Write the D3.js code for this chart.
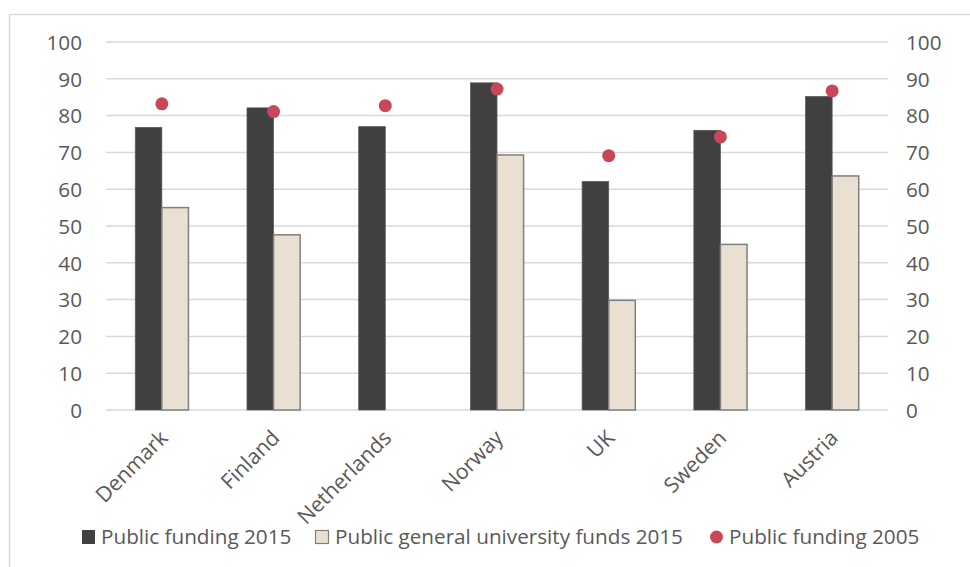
<!DOCTYPE html>
<html><head><meta charset="utf-8">
<script src="https://cdn.jsdelivr.net/npm/d3@7"></script>
<style>
html,body{margin:0;padding:0;background:#fff;}
svg{display:block;}
text{font-family:"Open Sans",sans-serif;fill:#595959;}
</style></head>
<body>
<svg id="chart" width="970" height="567"></svg>
<script>
const categories = ["Denmark","Finland","Netherlands","Norway","UK","Sweden","Austria"];
const publicFunding2015 = [76.8, 82.1, 77.0, 88.9, 62.1, 76.0, 85.2];
const generalUniversityFunds2015 = [55.0, 47.6, null, 69.3, 29.8, 45.0, 63.6];
const publicFunding2005 = [83.2, 81.1, 82.7, 87.2, 69.1, 74.2, 86.7];
const yTicks = [0,10,20,30,40,50,60,70,80,90,100];
const legendLabels = ["Public funding 2015","Public general university funds 2015","Public funding 2005"];

(function(){
const svg = d3.select("#chart");
const pl = 106, pr = 888, pt = 42, pb = 410;
const fs = "20.7px";

svg.append("rect").attr("x",9.5).attr("y",14.5).attr("width",1000).attr("height",600)
  .attr("fill","#fff").attr("stroke","#d9d9d9").attr("stroke-width",1.5);

const x = d3.scaleBand().domain(categories).range([pl,pr]).paddingInner(0).paddingOuter(0);
const y = d3.scaleLinear().domain([0,100]).range([pb,pt]);

svg.append("g").selectAll("line").data(yTicks).join("line")
  .attr("x1",pl).attr("x2",pr)
  .attr("y1",d=>y(d)).attr("y2",d=>y(d))
  .attr("stroke","#d9d9d9").attr("stroke-width",1.5);

const yl = d3.axisLeft(y).tickValues(yTicks).tickSize(0).tickPadding(24);
const gl = svg.append("g").attr("transform",`translate(${pl},0)`).call(yl);
gl.select(".domain").remove();
gl.selectAll("text").style("font-size",fs).style("font-family","'Open Sans',sans-serif").attr("fill","#595959").attr("dy","0.35em");

const yr = d3.axisRight(y).tickValues(yTicks).tickSize(0).tickPadding(18);
const gr = svg.append("g").attr("transform",`translate(${pr},0)`).call(yr);
gr.select(".domain").remove();
gr.selectAll("text").style("font-size",fs).style("font-family","'Open Sans',sans-serif").attr("fill","#595959").attr("dy","0.35em");

const bw = x.bandwidth()*0.238;
svg.append("g").selectAll("rect").data(categories).join("rect")
  .attr("x",(d)=>x(d)+x.bandwidth()/2-bw)
  .attr("width",bw)
  .attr("y",(d,i)=>y(publicFunding2015[i]))
  .attr("height",(d,i)=>y(0)-y(publicFunding2015[i]))
  .attr("fill","#404040").attr("stroke","#595959").attr("stroke-width",0.75);

svg.append("g").selectAll("rect").data(categories.filter((d,i)=>generalUniversityFunds2015[i]!=null)).join("rect")
  .attr("x",(d)=>x(d)+x.bandwidth()/2)
  .attr("width",bw)
  .attr("y",(d)=>y(generalUniversityFunds2015[categories.indexOf(d)]))
  .attr("height",(d)=>y(0)-y(generalUniversityFunds2015[categories.indexOf(d)]))
  .attr("fill","#eae0d2").attr("stroke","#7f7f7f").attr("stroke-width",1.5);

svg.append("g").selectAll("circle").data(categories).join("circle")
  .attr("cx",d=>x(d)+x.bandwidth()/2)
  .attr("cy",(d,i)=>y(publicFunding2005[i]))
  .attr("r",6.5).attr("fill","#c8485a");

svg.append("g").selectAll("text").data(categories).join("text")
  .attr("transform",d=>`translate(${x(d)+x.bandwidth()/2+2},${pb+24}) rotate(-45)`)
  .attr("text-anchor","end").attr("dy","0.35em")
  .style("font-size","21.2px").text(d=>d);

const lg = svg.append("g");
const ly = 537;
lg.append("rect").attr("x",82).attr("y",ly-7).attr("width",13).attr("height",14).attr("fill","#404040");
lg.append("text").attr("x",101).attr("y",ly).attr("dy","0.35em").style("font-size",fs).text(legendLabels[0]);
lg.append("rect").attr("x",315.5).attr("y",ly-6.5).attr("width",13).attr("height",13).attr("fill","#eae0d2").attr("stroke","#7f7f7f").attr("stroke-width",1.2);
lg.append("text").attr("x",335).attr("y",ly).attr("dy","0.35em").style("font-size",fs).text(legendLabels[1]);
lg.append("circle").attr("cx",716.5).attr("cy",ly).attr("r",6.5).attr("fill","#c8485a");
lg.append("text").attr("x",729).attr("y",ly).attr("dy","0.35em").style("font-size",fs).text(legendLabels[2]);
})();
</script>
</body></html>
